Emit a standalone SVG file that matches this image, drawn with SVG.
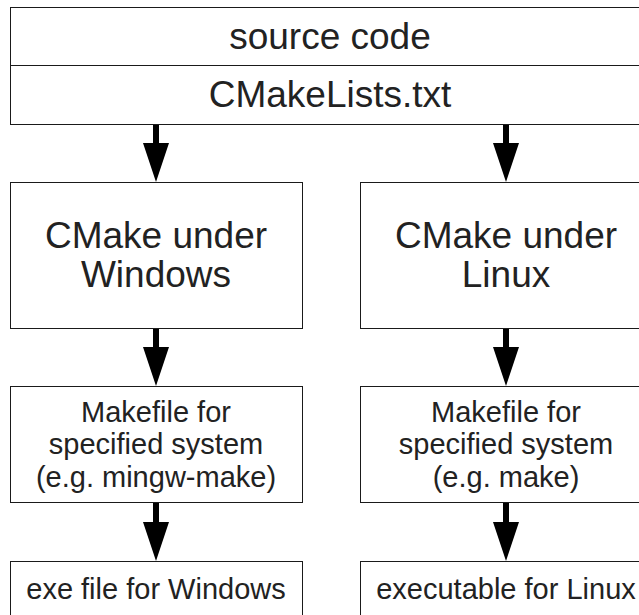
<svg xmlns="http://www.w3.org/2000/svg" width="639" height="615" viewBox="0 0 639 615">
<style>
.box{fill:#ffffff;stroke:#1a1a1a;stroke-width:1}
.t{font-family:"Liberation Sans",Arial,sans-serif;fill:#222222;text-anchor:middle}
.big{font-size:37px}
.mid{font-size:29px}
.arr{stroke:#000000;stroke-width:6;fill:none}
</style>
<defs>
<marker id="ah" viewBox="0 0 39 26" refX="0" refY="13" markerWidth="39" markerHeight="26" markerUnits="userSpaceOnUse" orient="auto">
<path d="M0,0 L39,13 L0,26 Z" fill="#000000"/>
</marker>
</defs>
<rect width="639" height="615" fill="#ffffff"/>
<g id="source">
<rect class="box" x="10.5" y="7.5" width="640" height="117"/>
<line x1="10.5" y1="65.5" x2="650" y2="65.5" stroke="#1a1a1a" stroke-width="1"/>
<text class="t big" x="330" y="49">source code</text>
<text class="t big" x="330" y="107">CMakeLists.txt</text>
</g>
<g id="cmake-win">
<rect class="box" x="10.5" y="182.5" width="292" height="146"/>
<text class="t big" x="156" y="248">CMake under</text>
<text class="t big" x="156" y="287">Windows</text>
</g>
<g id="cmake-linux">
<rect class="box" x="360.5" y="182.5" width="292" height="146"/>
<text class="t big" x="506" y="248">CMake under</text>
<text class="t big" x="506" y="287">Linux</text>
</g>
<g id="make-win">
<rect class="box" x="10.5" y="386.5" width="292" height="116"/>
<text class="t mid" x="156" y="422">Makefile for</text>
<text class="t mid" x="156" y="454">specified system</text>
<text class="t mid" x="156" y="487">(e.g. mingw-make)</text>
</g>
<g id="make-linux">
<rect class="box" x="360.5" y="386.5" width="292" height="116"/>
<text class="t mid" x="506" y="422">Makefile for</text>
<text class="t mid" x="506" y="454">specified system</text>
<text class="t mid" x="506" y="487">(e.g. make)</text>
</g>
<g id="exe-win">
<rect class="box" x="10.5" y="561.5" width="292" height="70"/>
<text class="t mid" x="156" y="599">exe file for Windows</text>
</g>
<g id="exe-linux">
<rect class="box" x="360.5" y="561.5" width="292" height="70"/>
<text class="t mid" x="506" y="599">executable for Linux</text>
</g>
<g id="connectors">
<line class="arr" x1="156" y1="125" x2="156" y2="143" marker-end="url(#ah)"/>
<line class="arr" x1="506" y1="125" x2="506" y2="143" marker-end="url(#ah)"/>
<line class="arr" x1="156" y1="329" x2="156" y2="347" marker-end="url(#ah)"/>
<line class="arr" x1="506" y1="329" x2="506" y2="347" marker-end="url(#ah)"/>
<line class="arr" x1="156" y1="503" x2="156" y2="522" marker-end="url(#ah)"/>
<line class="arr" x1="506" y1="503" x2="506" y2="522" marker-end="url(#ah)"/>
</g>
</svg>
